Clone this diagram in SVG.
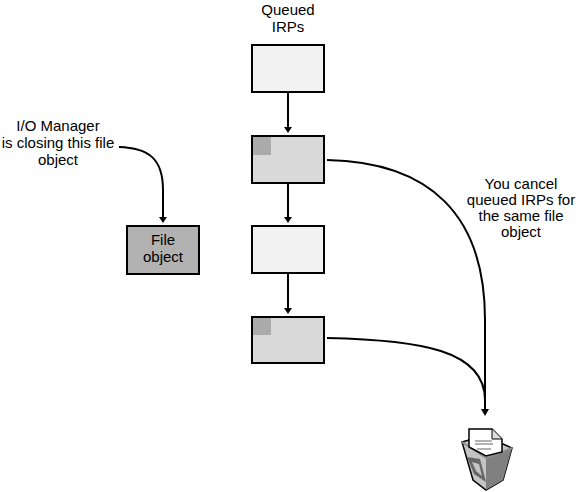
<svg xmlns="http://www.w3.org/2000/svg" width="582" height="492" viewBox="0 0 582 492">
<style>
text{font-family:"Liberation Sans",Arial,sans-serif;font-size:15px;fill:#000;text-anchor:middle}
.box{stroke:#000;stroke-width:2;shape-rendering:crispEdges}
.light{fill:#f2f2f2}.mid{fill:#d9d9d9}.dark{fill:#b2b2b2}
.tab{fill:#ababab}
.c{fill:none;stroke:#000;stroke-width:2}
.h{fill:#000}
</style>
<rect width="582" height="492" fill="#fff"/>
<g id="connectors">
<path class="c" d="M288 93V129"/>
<path class="h" d="M284 127h8l-4 6z"/>
<path class="c" d="M288 184V219"/>
<path class="h" d="M284 217h8l-4 6z"/>
<path class="c" d="M288 274V310"/>
<path class="h" d="M284 308h8l-4 6z"/>
<path class="c" d="M119 147C148 148 163 158 163 190V219"/>
<path class="h" d="M159 217h8l-4 6z"/>
<path class="c" d="M327 160C430 162 485 215 485 320V410"/>
<path class="c" d="M327 338C420 340 485 350 485 400"/>
<path class="h" d="M481 409h8l-4 7z"/>
</g>
<g id="label-queued"><text x="288" y="15">Queued</text><text x="288" y="32">IRPs</text></g>
<g id="node-irp1"><rect class="box light" x="252" y="45" width="72" height="47"/></g>
<g id="node-irp2"><rect class="box mid" x="252" y="136" width="72" height="47"/><rect class="tab" x="253" y="137" width="18" height="18"/></g>
<g id="node-irp3"><rect class="box light" x="252" y="226" width="72" height="47"/></g>
<g id="node-irp4"><rect class="box mid" x="252" y="317" width="72" height="46"/><rect class="tab" x="253" y="318" width="18" height="17"/></g>
<g id="node-file"><rect class="box dark" x="127" y="226" width="72" height="48"/><text x="163" y="245">File</text><text x="163" y="262">object</text></g>
<g id="label-manager"><text x="58" y="131">I/O Manager</text><text x="58" y="148">is closing this file</text><text x="58" y="165">object</text></g>
<g id="label-cancel"><text x="521" y="189">You cancel</text><text x="521" y="205">queued IRPs for</text><text x="521" y="221">the same file</text><text x="521" y="237">object</text></g>
<g id="node-trash">
<path d="M462 442L469 440L503 444L512 448L503 480L486 490L473 480Z" fill="#c4c4c4" stroke="#000" stroke-width="1.5"/>
<path d="M486 458L512 448L503 480L486 490Z" fill="#808080"/>
<path d="M462 442L486 458L512 448" fill="none" stroke="#909090" stroke-width="2"/>
<path d="M469 429H492L502 439V452L486 456L469 447Z" fill="#fff" stroke="#000" stroke-width="1.5"/>
<path d="M492 429V439H502" fill="#ddd" stroke="#000" stroke-width="1"/>
<path d="M475 441H492M475 444H493M477 449H491" stroke="#666" stroke-width="1"/>
<path d="M467 457L480 459L486 482L474 474Z" fill="#666"/>
<path d="M472 462L479 464L482 476L476 471Z" fill="#c4c4c4"/>
</g>
</svg>
